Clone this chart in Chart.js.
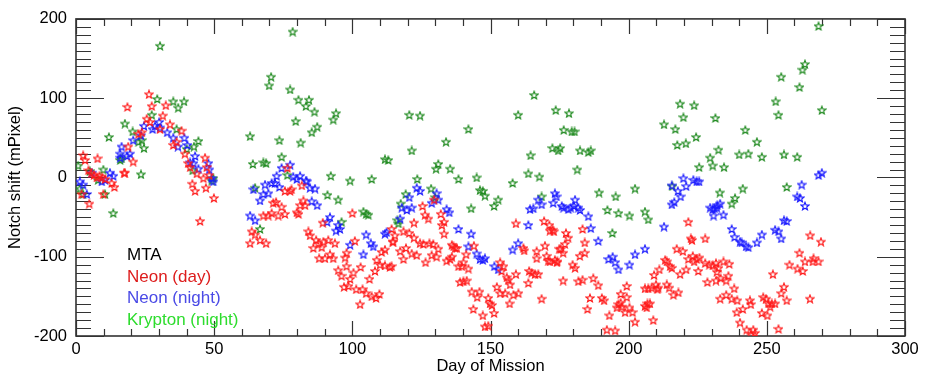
<!DOCTYPE html>
<html>
<head>
<meta charset="utf-8">
<script src="https://cdn.jsdelivr.net/npm/chart.js@4.4.1/dist/chart.umd.min.js"></script>
<style>
    body { margin: 0; background: #fff; }
    #wrap { width: 926px; height: 378px; }
</style>
</head>
<body>
<div id="wrap"><canvas id="notchChart" width="926" height="378"></canvas></div>
<script>
// [day of mission, notch shift in mPixel]
const neonDay = [
    [26.4,105],[18.6,89],[27.4,90],[32.5,91],[31.4,78],[25.6,74],[26.8,70],[34,67],[30.4,61],[22.6,55],
    [23.8,57],[18.9,39],[20.7,20],[17.7,6],[38.2,59],[36.4,45],[35.2,41],[39.4,30],[40.6,18],[41.3,13],
    [43.7,5],[46.7,25],[47.3,13],[46.1,-1],[48.2,3],[42.1,-8],[43.1,-17],[47,-13],[49.9,-26],[44.9,-55],
    [2.6,28],[3.3,22],[7.8,24],[4.5,9],[5.5,5],[6.5,3],[7.5,0],[8.5,2],[9.5,0],[10.5,-2],
    [12.9,-7],[13.9,-12],[9.9,-21],[4.8,-33],[2,-21],[17.4,6],
    [76.5,12],[81.7,-10],[78,-15],[77.5,-17],[75.6,-17],[71.4,-32],[72.4,-31],[74.4,-37],[82.3,-29],[82.9,-35],
    [81.1,-35],[79.9,-44],[80.5,-46],[67.8,-48],[69.6,-48],[70.8,-45],[73.2,-48],[75.6,-46],[89.3,-57],[100,-45],
    [63.6,-68],[64.8,-72],[66.6,-79],[68.8,-83],[63,-83],[84.1,-68],[84.7,-73],[86.9,-79],[87.7,-83],[89.5,-81],
    [91.3,-79],[93.7,-83],[85.9,-89],[88.9,-88],[91.9,-97],[97.9,-95],[97.4,-101],[100.9,-80],[97.9,-112],[88,-102],
    [90.1,-102],[93.1,-102],[94.9,-117],[96.1,-124],[99.2,-128],[100.4,-120],[98.6,-137],[101.4,-141],[97,-138],[103.7,-141],
    [106.2,-128],[103,-113],[105,-146],[107,-150],[108.6,-152],[109.8,-147],[102.8,-160],[108.8,-104],[110,-110],[111.8,-111],
    [113.6,-113],[110.6,-94],[111.8,-91],[108.2,-118],[114.8,-81],[114.2,-65],
    [115.4,-73],[114.6,-81],[118.5,-68],[120.6,-70],[122.3,-76],[124.5,-83],[125.7,-84],[127.9,-83],[129.3,-84],[131.1,-90],
    [119.4,-89],[117.3,-93],[121.5,-96],[123.3,-98],[118.5,-103],[114.2,-112],[125.4,-36],[126.3,-47],[127.5,-52],[122.3,-57],
    [129.6,-28],[132,-46],[133.2,-56],[132.4,-60],[133.2,-71],[126.5,-107],[128.7,-98],[130.5,-100],[136,-85],[137.2,-89],
    [136.6,-87],[137.8,-89],[134.1,-105],[135.4,-103],[136,-100],[140.2,-107],[138.4,-112],[139.6,-112],[142,-115],[141.2,-97],
    [144,-86],[139,-132],[140.2,-131],[141.4,-130],[143.2,-144],[146,-144],[145.2,-151],[149.2,-152],[149.8,-159],[150.5,-161],
    [143.8,-166],[147.2,-174],[151.3,-171],[148,-188],[149.2,-187],[153.5,-107],[154.7,-112],[154,-118],[155.9,-126],[156.5,-129],
    [159.2,-122],[152.3,-138],[157.1,-135],[153.5,-146],[155.3,-146],[158.3,-148],[160.1,-146],[156.9,-159],[163.7,-133],[159.2,-58],
    [161.9,-89],[162.2,-92],[164,-118],[164.9,-120],[166.1,-122],[167.3,-122],[166.7,-93],[166.7,-102],[169.4,-55],[171.3,-60],
    [172.5,-66],[169.7,-86],[170.3,-99],[170.9,-105],[173.3,-104],[174,-107],[174.9,-90],[168.5,-153],
    [172.9,-68],[171.5,-67],[177.3,-70],[178.1,-76],[176.9,-84],[175.4,-90],[176.3,-95],[183.3,-65],[184.1,-82],[184.1,-95],
    [182.3,-99],[174.2,-106],[171.5,-106],[179.7,-110],[180.6,-114],[176.3,-130],[181.8,-131],[183.3,-129],[187.2,-127],[189,-136],
    [186,-152],[185.1,-166],[190.3,-152],[191.1,-155],[193,-174],[192.1,-192],[195.1,-193],[197.1,-147],[199.3,-151],[197.1,-158],
    [196.3,-160],[195.7,-164],[197.5,-163],[198.7,-170],[200.3,-164],[201.4,-170],[202.3,-182],[199.3,-137],[205.9,-162],[206.8,-159],
    [207.7,-159],[206.5,-164],[205.9,-140],[207.1,-140],[208.3,-139],[209.9,-135],[210.7,-139],[210.4,-141],[209.2,-123],[211.1,-116],
    [213.2,-104],[213.8,-106],[215,-112],[215.6,-114],[213.8,-135],[214.7,-139],[216.2,-148],[218,-145],[208.9,-180],[217.4,-90],
    [219.6,-93],[221.6,-56],[222.5,-77],[222.9,-79],[221.6,-103],[223.2,-99],[224.6,-103],[223.7,-106],[225.6,-101],[227.7,-77],
    [227.7,-108],[229.2,-110],[230.4,-111],[231.6,-108],[232.5,-114],[231.9,-119],[225.2,-118],[220.8,-116],[218.6,-122],[228.5,-132],
    [233.1,-153],[233.3,-127],[231.6,-130],
    [234.3,-106],[236.4,-109],[235.3,-130],[236.1,-124],[238.2,-140],[235.3,-148],[237.3,-153],[239.3,-155],[239.1,-170],[241.3,-166],
    [240.3,-183],[242.7,-192],[244.2,-198],[245.1,-192],[245.7,-196],[248.7,-151],[249.7,-153],[250.6,-159],[251.8,-159],[253,-159],
    [251.2,-163],[248.2,-171],[250.2,-174],[243.9,-155],[244.2,-160],[254.2,-191],[252.2,-122],[256.2,-138],[255.2,-146],[257.2,-155],
    [265.6,-153],[265.7,-73],[269.6,-81],[261.8,-95],[258.2,-110],[261.1,-115],[263,-118],[263.8,-106],[266.9,-102],[266.6,-106],
    [268.7,-106]
];

const neonNight = [
    [1.4,-5],[2.6,-9],[3.9,-21],[5.7,6],[12.3,6],[10.5,-3],[9.3,-5],[13.5,2],[16.5,39],[16,30],
    [19.5,30],[16,25],[18.5,27],[20.7,47],[23.5,53],[24.6,65],[27.7,61],[28.6,65],[30.1,70],[30.4,63],
    [33,57],[35.2,50],[36.9,39],[39.2,50],[40.3,41],[43.1,27],[41.3,19],[42.5,18],[44.3,11],[47.9,18],
    [48.2,10],[49.7,-5],[49.1,-1],
    [77.5,16],[74.4,12],[72.6,2],[78.6,1],[79.9,-2],[81.1,2],[83.2,-4],[64.2,-15],[68.4,-9],[70.8,-7],
    [72,-7],[73.6,-12],[83.5,-5],[84.7,-13],[86.5,-14],[67.8,-21],[69.6,-20],[66.6,-29],[85.3,-30],[87.3,-35],
    [63,-48],[64.8,-54],[91.9,-50],[90.9,-56],[94.9,-60],[94.1,-67],[95.5,-65],[105,-72],[106.7,-83],[107.6,-87],
    [104,-97],[99.2,-85],[112.4,-69],[111.8,-71],[117.3,-52],
    [123.3,-13],[124.5,-17],[120.6,-25],[130.5,-20],[131.1,-28],[128.7,-32],[117.9,-38],[119.7,-41],[121.5,-38],[134.1,-40],
    [135.1,-44],[138.4,-65],[143,-71],[142,-87],[145,-96],[146.2,-103],[148,-102],[147.2,-104],[151.4,-112],[152.8,-116],
    [163.7,-60],[160,-83],[158,-91],[167.3,-28],[168.5,-34],[165.5,-39],[164.3,-40],[173.3,-20],[173.9,-24],[172.7,-32],
    [219.8,-1],[223.4,-3],[224.6,-5],[225.5,-5],[215.6,-10],[220.8,-11],[217.8,-17],[218.8,-24],[216.5,-31],[215.6,-34],
    [229.5,-38],[230.7,-48],[230.4,-40],[231.9,-38],[175.8,-36],[176.4,-38],[178.2,-40],[179,-38],[180.6,-28],[180.2,-36],
    [181.8,-38],[182.4,-41],[185.4,-49],[186.3,-64],[189,-80],[212.8,-62],[205.9,-90],[202.3,-97],[194.2,-100],[192.7,-103],
    [195.1,-107],[196.3,-116],[200.3,-110],
    [268.7,3],[269.9,6],[262.6,-9],[261,-24],[262,-26],[263.8,-36],[233.1,-33],[232.1,-35],[231.1,-39],[234.3,-47],
    [237.3,-65],[238.3,-75],[240.3,-81],[240.9,-82],[242.5,-87],[243.3,-88],[246.4,-82],[248.2,-72],[253,-66],[254.2,-68],
    [255.2,-77],[256.2,-54],[257.2,-55]
];

const kryptonNight = [
    [29.4,99],[35.2,96],[39.1,96],[37,88],[17.7,68],[27.4,79],[20.5,58],[22.6,45],[23.8,47],[24.6,37],
    [11.9,51],[16,22],[16.5,24],[23.5,4],[36.4,61],[44.3,46],[42.7,39],[40.1,36],[42.2,9],[49.7,-1],
    [49.1,-4],[0.8,15],[9.9,10],[13.5,-45],[1.4,-14],[2.6,-21],[10.5,-21],[8,-3],[5,8],[30.4,166],
    [78.4,184],[70.6,127],[69.9,116],[77.5,111],[80.5,98],[84.3,98],[83.2,90],[86.3,83],[94.1,81],[93.1,73],
    [79.5,71],[87.3,64],[85.3,57],[63,52],[73.6,47],[81.3,44],[74.4,26],[64,17],[67.8,19],[68.8,18],
    [111.8,23],[113,22],[92.2,2],[99.2,-4],[107,-2],[76.5,3],[64.8,-13],[91,-22],[94.9,-28],[104,-43],
    [105.8,-47],[105,-46],[96.1,-56],[66.6,-65],[116.7,-58],
    [165.8,104],[173.6,85],[160,79],[120.6,79],[124.5,78],[142,61],[133.9,45],[121.5,34],[172.4,37],[174.5,34],
    [175.2,37],[164.5,28],[131.1,17],[130.3,11],[135.4,11],[163.7,5],[167.7,1],[123.5,-2],[138.4,-2],[145,0],
    [158,-7],[119.3,-21],[128.5,-14],[130,-25],[117.5,-33],[116.3,-54],[146.2,-16],[147.2,-17],[148,-23],[152.8,-28],
    [151.3,-36],[143,-39],[168.5,-24],
    [218.6,93],[223.7,91],[219.8,76],[231.4,75],[212.8,67],[216.9,61],[224.4,51],[217.6,41],[220.7,43],[232.5,35],
    [229.5,25],[230.4,15],[225.5,13],[178.4,81],[176.5,60],[179.4,58],[180.4,58],[182.4,34],[185.4,32],[186.3,34],
    [181.4,10],[189.3,-19],[195.3,-24],[202.3,-14],[192.3,-41],[196.3,-45],[200.3,-48],[205.9,-43],[207.1,-53],[194.1,-70],
    [215.8,-11],[233,-19],
    [268.7,191],[263.8,143],[262.9,136],[255.2,127],[261.8,114],[253.2,96],[254.2,79],[269.9,85],[242.2,60],[246.4,45],
    [234.5,13],[240,29],[243.3,30],[248.2,26],[256.2,29],[261,26],[238.5,-26],[237.3,-33],[241.3,-14],[257.2,-12]
];

const legendLines = [
    { text: 'MTA', color: '#000000' },
    { text: 'Neon (day)', color: '#dd1c1c' },
    { text: 'Neon (night)', color: '#4a4ae6' },
    { text: 'Krypton (night)', color: '#2ddc2d' }
];

const FONT = "'Liberation Sans', Arial, Helvetica, sans-serif";

function makeStar(color) {
    const c = document.createElement('canvas');
    c.width = 10;
    c.height = 10;
    const g = c.getContext('2d');
    g.strokeStyle = color;
    g.lineWidth = 1.1;
    g.beginPath();
    for (let i = 0; i < 10; i++) {
        const r = i % 2 ? 1.8 : 4.2;
        const a = -Math.PI / 2 + i * Math.PI / 5;
        const px = 5 + r * Math.cos(a);
        const py = 5.4 + r * Math.sin(a);
        if (i === 0) g.moveTo(px, py); else g.lineTo(px, py);
    }
    g.closePath();
    g.stroke();
    return c;
}

function toPoints(list) {
    return list.map(p => ({ x: p[0], y: p[1] }));
}

// box round the plot, with IDL-style inward ticks on all four sides
const frameTicks = {
    id: 'frameTicks',
    beforeDatasetsDraw(chart) {
        const { ctx, chartArea: a, scales: { x, y } } = chart;
        ctx.save();
        ctx.strokeStyle = '#333';
        ctx.lineWidth = 1.2;
        ctx.beginPath();
        x.ticks.forEach(t => {
            const px = Math.round(x.getPixelForValue(t.value)) + 0.5;
            const len = t.value % 50 === 0 ? 15 : 7;
            ctx.moveTo(px, a.bottom); ctx.lineTo(px, a.bottom - len);
            ctx.moveTo(px, a.top); ctx.lineTo(px, a.top + len);
        });
        y.ticks.forEach(t => {
            const py = Math.round(y.getPixelForValue(t.value)) + 0.5;
            const len = t.value % 100 === 0 ? 28 : 15;
            ctx.moveTo(a.left, py); ctx.lineTo(a.left + len, py);
            ctx.moveTo(a.right, py); ctx.lineTo(a.right - len, py);
        });
        ctx.stroke();
        ctx.lineWidth = 1.6;
        ctx.strokeRect(a.left, a.top, a.right - a.left, a.bottom - a.top);
        ctx.restore();
    },
    afterDraw(chart) {
        const { ctx, chartArea: a } = chart;
        ctx.save();
        ctx.font = '17px ' + FONT;
        ctx.textBaseline = 'alphabetic';
        legendLines.forEach((l, i) => {
            ctx.fillStyle = l.color;
            ctx.fillText(l.text, a.left + 51, a.top + 241 + i * 21.6);
        });
        ctx.restore();
    }
};

const ctx = document.getElementById('notchChart').getContext('2d');

new Chart(ctx, {
    type: 'scatter',
    data: {
        datasets: [
            {
                label: 'Neon (day)',
                data: toPoints(neonDay),
                pointStyle: makeStar('#ff1a1a'),
                pointRadius: 5
            },
            {
                label: 'Neon (night)',
                data: toPoints(neonNight),
                pointStyle: makeStar('#1a1aff'),
                pointRadius: 5
            },
            {
                label: 'Krypton (night)',
                data: toPoints(kryptonNight),
                pointStyle: makeStar('#1f8a1f'),
                pointRadius: 5
            }
        ]
    },
    options: {
        responsive: false,
        animation: false,
        devicePixelRatio: 1,
        layout: { padding: { top: 13, right: 21, left: 0, bottom: 0 } },
        plugins: {
            legend: { display: false },
            tooltip: { enabled: false }
        },
        scales: {
            x: {
                type: 'linear',
                min: 0,
                max: 300,
                grid: { display: false, drawTicks: false },
                border: { display: false },
                ticks: {
                    stepSize: 10,
                    autoSkip: false,
                    maxRotation: 0,
                    padding: 4,
                    color: '#000',
                    font: { family: FONT, size: 16.5 },
                    callback: v => (v % 50 === 0 ? v : '')
                },
                title: {
                    display: true,
                    text: 'Day of Mission',
                    color: '#000',
                    font: { family: FONT, size: 16.5 },
                    padding: { top: 0, bottom: 2 }
                },
                afterFit: s => { s.height = 42; }
            },
            y: {
                min: -200,
                max: 200,
                grid: { display: false, drawTicks: false },
                border: { display: false },
                ticks: {
                    stepSize: 10,
                    autoSkip: false,
                    padding: 9,
                    color: '#000',
                    font: { family: FONT, size: 16.5 },
                    callback: v => (v % 100 === 0 ? v : '')
                },
                title: {
                    display: true,
                    text: 'Notch shift (mPixel)',
                    color: '#000',
                    font: { family: FONT, size: 16.5 },
                    padding: { top: 6, bottom: 0 }
                },
                afterFit: s => { s.width = 76; }
            }
        }
    },
    plugins: [frameTicks]
});
</script>
</body>
</html>
